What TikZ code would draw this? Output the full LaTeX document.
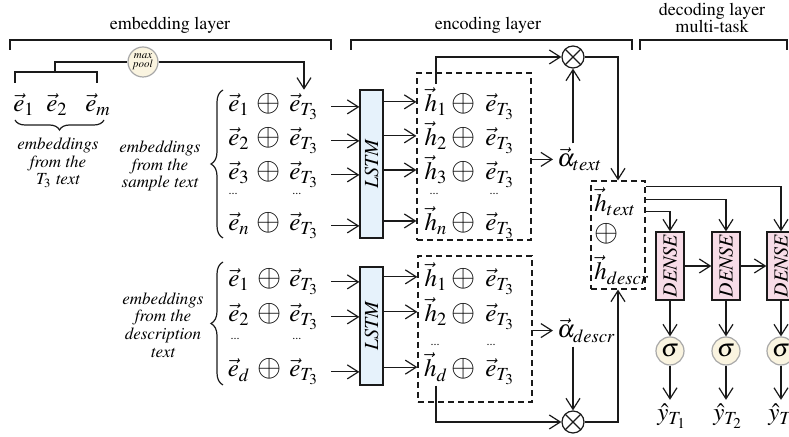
\documentclass[tikz,border=0pt]{standalone}
\usepackage[T1]{fontenc}
\usepackage{mathptmx}
\usetikzlibrary{arrows.meta,positioning,calc,decorations.pathreplacing}
\definecolor{ink}{HTML}{1A1A1A}
\definecolor{lstmfill}{HTML}{E6F2FB}
\definecolor{densefill}{HTML}{F7DCE7}
\definecolor{circfill}{HTML}{FAF4E0}
\definecolor{circline}{HTML}{A8A8A8}
\tikzset{
  title/.style={font=\fontsize{9}{8.5}\selectfont, align=center, inner sep=0pt},
  note/.style={font=\fontsize{8.5}{8.8}\selectfont\itshape, align=center, inner sep=0pt},
  sym/.style={font=\fontsize{12.5}{14}\selectfont, inner sep=2pt},
  plus/.style={font=\fontsize{15.5}{16}\selectfont, inner sep=2pt},
  ellip/.style={font=\fontsize{6}{6}\selectfont, inner sep=0pt, anchor=base},
  lstmbox/.style={draw=ink, fill=lstmfill, line width=0.6pt, inner sep=0pt, minimum width=11.5pt, font=\fontsize{10}{10}\selectfont\itshape},
  densebox/.style={draw=ink, fill=densefill, line width=0.6pt, inner sep=0pt, minimum width=14pt, minimum height=34pt, font=\fontsize{10}{10}\selectfont\itshape},
  dashbox/.style={draw=ink, line width=0.6pt, dash pattern=on 3pt off 2pt, inner sep=0pt},
  act/.style={circle, draw=circline, fill=circfill, line width=0.6pt, inner sep=0pt},
  mult/.style={circle, draw=ink, line width=0.6pt, minimum size=11pt, inner sep=0pt,
    path picture={\draw[ink, line width=0.6pt] (path picture bounding box.north west) -- (path picture bounding box.south east)
      (path picture bounding box.south west) -- (path picture bounding box.north east);}},
  wire/.style={line width=0.6pt, draw=ink},
  arrow/.style={-{Straight Barb[length=5.5pt,width=7pt]}, line width=0.6pt, draw=ink}
}
\begin{document}
\begin{tikzpicture}[x=0.5pt,y=-0.5pt]
\useasboundingbox (0,0) rectangle (789,437);
\clip (0,0) rectangle (789,437);
\node[title, anchor=base] (tEmb) at (170,30) {embedding layer};
\node[title, anchor=base] (tEnc) at (488,30) {encoding layer};
\node[title, anchor=north] (tDec) at (712,3) {decoding layer\\multi-task};
\draw[wire] (10,50) |- (331,40) -- (331,50);
\draw[wire] (351,50) |- (632,40) -- (632,50);
\draw[wire] (640,50) |- (787,40) -- (787,50);
\node[sym, anchor=base] (e1) at (24,112) {$\vec e_1$};
\node[sym, anchor=base] (e2) at (57,112) {$\vec e_2$};
\node[sym, anchor=base] (em) at (98,112) {$\vec e_m$};
\draw[wire] (15,83) |- (97,72) -- (97,83);
\coordinate (stem) at (55,72);
\node[act, minimum size=15pt, font=\fontsize{5.5}{4.5}\selectfont\itshape, align=center] (pool) at (143,62) {max\\pool};
\draw[wire, decorate, decoration={brace, amplitude=5pt}] (104,120) -- (15,120);
\node[note] (lblT) at (58,163) {embeddings\\from the\\$T_3$ text};
\node[dashbox, minimum width=57pt, minimum height=83.5pt] (encA) at (474,156.5) {};
\node[dashbox, minimum width=57pt, minimum height=73pt] (encB) at (475,329) {};
\node[lstmbox, minimum height=74pt] (lstmA) at (371.5,164) {\rotatebox{90}{LSTM}};
\node[lstmbox, minimum height=59pt] (lstmB) at (371.5,326) {\rotatebox{90}{LSTM}};
\foreach \n/\y/\s in {1/112/1,2/146/2,3/180/3,4/231/n}{
  \node[sym, anchor=base] (sa\n) at (239,\y) {$\vec e_{\s}$};
  \node[plus, anchor=base] (soa\n) at (269,\y) {$\oplus$};
  \node[sym, anchor=base] (sta\n) at (304,\y) {$\vec e_{T_3}$};
  \node[sym, anchor=base] (ha\n) at (436,\y) {$\vec h_{\s}$};
  \node[plus, anchor=base] (hoa\n) at (464,\y) {$\oplus$};
  \node[sym, anchor=base] (hta\n) at (500,\y) {$\vec e_{T_3}$};
  \draw[arrow, shorten <=4pt] (sta\n.east) -- (lstmA.west |- sta\n.east);
  \draw[arrow] (lstmA.east |- ha\n.west) -- (encA.west |- ha\n.west);
}
\foreach \n/\y/\s in {1/287/1,2/322/2,3/377/d}{
  \node[sym, anchor=base] (sb\n) at (239,\y) {$\vec e_{\s}$};
  \node[plus, anchor=base] (sob\n) at (270,\y) {$\oplus$};
  \node[sym, anchor=base] (stb\n) at (304,\y) {$\vec e_{T_3}$};
  \node[sym, anchor=base] (hb\n) at (436,\y) {$\vec h_{\s}$};
  \node[plus, anchor=base] (hob\n) at (464,\y) {$\oplus$};
  \node[sym, anchor=base] (htb\n) at (500,\y) {$\vec e_{T_3}$};
  \draw[arrow, shorten <=4pt] (stb\n.east) -- (lstmB.west |- stb\n.east);
  \draw[arrow] (lstmB.east |- hb\n.west) -- (encB.west |- hb\n.west);
}
\node[ellip] (sda) at (233,195) {...}; \node[ellip] (sdb) at (297,195) {...};
\node[ellip] (hda) at (434,195) {...}; \node[ellip] (hdb) at (494,195) {...};
\node[ellip] (sdc) at (235,340) {...}; \node[ellip] (sdd) at (297,340) {...};
\node[ellip] (hdc) at (435,346) {...}; \node[ellip] (hdd) at (491,346) {...};
\draw[wire, decorate, decoration={brace, amplitude=6pt}] (223,238) -- (223,90);
\draw[wire, decorate, decoration={brace, amplitude=6pt}] (223,385) -- (223,262);
\node[note] (lblS) at (160,166) {embeddings\\from the\\sample text};
\node[note] (lblD) at (163,325) {embeddings\\from the\\description\\text};
\draw[wire] (stem) |- (pool.west);
\draw[arrow] (pool.east) -| (sta1.north);
\node[mult] (multT) at (573,57) {};
\node[mult] (multB) at (573,422) {};
\node[sym, anchor=base west] (alT) at (553,167) {$\vec\alpha_{text}$};
\node[sym, anchor=base west] (alD) at (553,338) {$\vec\alpha_{descr}$};
\node[dashbox, minimum width=27pt, minimum height=54pt] (comb) at (618,235) {};
\node[sym, anchor=base west] (hT) at (590,212) {$\vec h_{text}$};
\node[plus] (hO) at (607,234) {$\oplus$};
\node[sym, anchor=base west] (hDs) at (590,280) {$\vec h_{descr}$};
\draw[arrow] (ha1.north) |- (multT.west);
\draw[arrow] (encA.east |- alT.west) -- (alT.west);
\draw[arrow] (multT |- alT.north) -- (multT.south);
\draw[arrow] (multT.east) -| (comb.north);
\draw[arrow] (hb3.south) |- (multB.west);
\draw[arrow] (encB.east |- alD.west) -- (alD.west);
\draw[arrow] (multB |- alD.south) -- (multB.north);
\draw[arrow] (multB.east) -| (comb.south);
\node[densebox] (dnA) at (670,266) {\rotatebox{90}{DENSE}};
\node[densebox] (dnB) at (726,266) {\rotatebox{90}{DENSE}};
\node[densebox] (dnC) at (781,266) {\rotatebox{90}{DENSE}};
\draw[arrow] ([yshift=-3pt]comb.north east) -| (dnC.north);
\draw[arrow] ([yshift=-9.5pt]comb.north east) -| (dnB.north);
\draw[arrow] ([yshift=-15.5pt]comb.north east) -| (dnA.north);
\draw[arrow] (dnA) -- (dnB); \draw[arrow] (dnB) -- (dnC);
\node[sym, act, minimum size=14pt] (sgA) at (670,351) {$\sigma$};
\node[sym, act, minimum size=14pt] (sgB) at (726,351) {$\sigma$};
\node[sym, act, minimum size=14pt] (sgC) at (781,351) {$\sigma$};
\draw[arrow] (dnA) -- (sgA); \draw[arrow] (dnB) -- (sgB); \draw[arrow] (dnC) -- (sgC);
\node[sym, anchor=base] (yA) at (672,421) {$\hat y_{T_1}$};
\node[sym, anchor=base] (yB) at (728,421) {$\hat y_{T_2}$};
\node[sym, anchor=base] (yC) at (783,421) {$\hat y_{T_3}$};
\draw[arrow] (sgA) -- (sgA |- yA.north); \draw[arrow] (sgB) -- (sgB |- yB.north); \draw[arrow] (sgC) -- (sgC |- yC.north);
\end{tikzpicture}
\end{document}
